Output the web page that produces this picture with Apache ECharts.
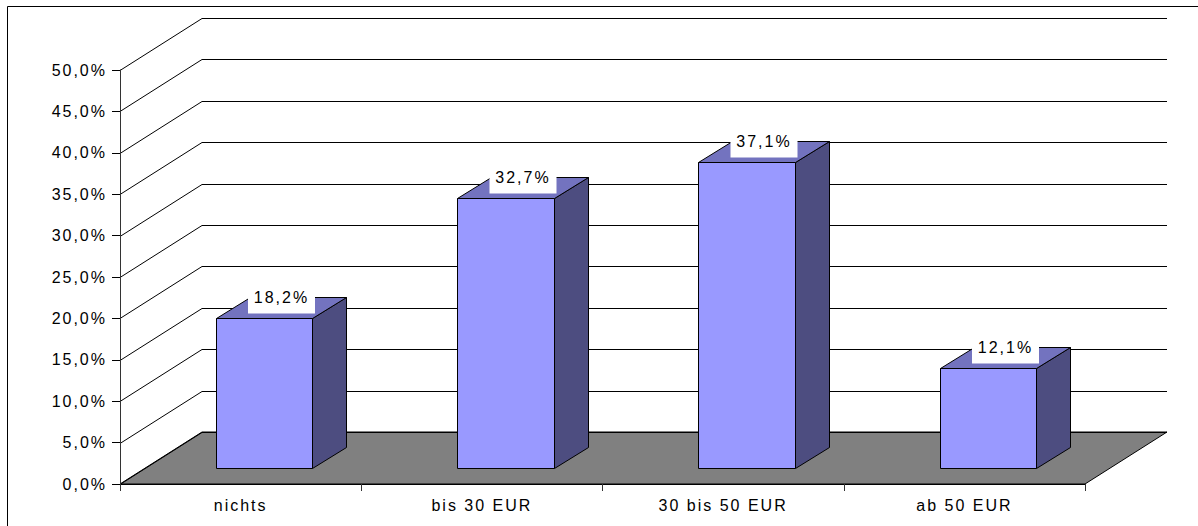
<!DOCTYPE html>
<html>
<head>
<meta charset="utf-8">
<style>
  html, body { margin: 0; padding: 0; background: #fff; }
  #main { width: 1198px; height: 526px; }
  /* the original labels are widely spaced, canvas text can't do this so svg renderer + css */
  #main text { letter-spacing: 2px; }
</style>
<script src="https://cdn.jsdelivr.net/npm/echarts@6/dist/echarts.min.js"></script>
</head>
<body>
<div id="main"></div>
<script>
var categories = ['nichts', 'bis 30 EUR', '30 bis 50 EUR', 'ab 50 EUR'];
var shares = [18.2, 32.7, 37.1, 12.1];
var yTicks = [0, 5, 10, 15, 20, 25, 30, 35, 40, 45, 50];

// fake 3d: how far the back wall sits from the front plane, in px
var DEPTH_X = 82;
var DEPTH_Y = 52;
// bar position inside the floor depth, and width inside the category band
var BAR_FRONT = 0.31;
var BAR_BACK = 0.72;
var BAR_WIDTH = 0.4;
var BAR_SHIFT = -2;
// bars come out a touch shorter than the wall scale in the original
var BAR_SCALE = 0.995;

var FONT = '"Liberation Sans", Arial, sans-serif';

function px(v) {
  return Math.round(v) + 0.5;
}

function percent(v) {
  return v.toFixed(1).replace('.', ',') + '%';
}

function poly(points, fill, z2) {
  return {
    type: 'polygon',
    z2: z2,
    shape: { points: points },
    style: { fill: fill, stroke: '#000', lineWidth: 1 }
  };
}

function renderFloor(params, api) {
  var rect = params.coordSys;
  var y = api.coord([0, 0])[1];
  return {
    type: 'polygon',
    shape: {
      points: [
        [rect.x, y],
        [rect.x + DEPTH_X, y - DEPTH_Y],
        [rect.x + rect.width + DEPTH_X, y - DEPTH_Y],
        [rect.x + rect.width, y]
      ]
    },
    style: { fill: '#808080', stroke: '#000', lineWidth: 1 }
  };
}

function renderGridLine(params, api) {
  var rect = params.coordSys;
  var y = px(api.coord([0, api.value(0)])[1]);
  var backY = y - DEPTH_Y;
  return {
    type: 'polyline',
    shape: {
      points: [
        [rect.x, y],
        [rect.x + DEPTH_X, backY],
        [rect.x + rect.width + DEPTH_X, backY]
      ]
    },
    style: { fill: null, stroke: '#000', lineWidth: 1 }
  };
}

function renderBar(params, api) {
  var i = api.value(0);
  var value = api.value(1);
  var center = api.coord([i, 0]);
  var top = api.coord([i, value]);
  var band = api.size([1, 0])[0];
  var w = band * BAR_WIDTH;

  var offX = DEPTH_X * BAR_FRONT + BAR_SHIFT;
  var offY = DEPTH_Y * BAR_FRONT;
  var sideX = DEPTH_X * (BAR_BACK - BAR_FRONT);
  var sideY = DEPTH_Y * (BAR_BACK - BAR_FRONT);

  var x0 = px(center[0] - w / 2 + offX);
  var x1 = px(center[0] + w / 2 + offX);
  var y0 = px(center[1] - offY);
  var y1 = px(center[1] - offY + (top[1] - center[1]) * BAR_SCALE);
  var dx = Math.round(sideX);
  var dy = Math.round(sideY);

  var labelX = (x0 + x1) / 2 + dx / 2;

  return {
    type: 'group',
    children: [
      poly([[x1, y0], [x1 + dx, y0 - dy], [x1 + dx, y1 - dy], [x1, y1]], '#4D4D80', 1),
      poly([[x0, y1], [x0 + dx, y1 - dy], [x1 + dx, y1 - dy], [x1, y1]], '#7373BF', 1),
      poly([[x0, y0], [x1, y0], [x1, y1], [x0, y1]], '#9999FF', 2),
      {
        type: 'rect',
        z2: 3,
        shape: { x: labelX - 33.5, y: y1 - 38, width: 67, height: 33 },
        style: { fill: '#fff' }
      },
      {
        type: 'text',
        z2: 4,
        x: labelX,
        y: y1 - 21,
        style: {
          text: percent(value),
          fill: '#000',
          font: '16px ' + FONT,
          align: 'center',
          verticalAlign: 'middle'
        }
      }
    ]
  };
}

var chart = echarts.init(document.getElementById('main'), null, { renderer: 'svg' });

chart.setOption({
  animation: false,
  backgroundColor: '#fff',
  textStyle: { fontFamily: FONT },
  grid: { left: 120, right: 113, top: 70, bottom: 42 },
  graphic: [
    {
      // the frame only shows on the left and top, the rest is cut off in the original
      type: 'polyline',
      silent: true,
      shape: { points: [[7.5, 526], [7.5, 6.5], [1198, 6.5]] },
      style: { fill: null, stroke: '#000', lineWidth: 1 }
    }
  ],
  xAxis: {
    type: 'category',
    data: categories,
    z: 5,
    axisLine: { lineStyle: { color: '#000', width: 1 } },
    axisTick: { show: true, alignWithLabel: false, length: 7, lineStyle: { color: '#333' } },
    axisLabel: { color: '#000', fontSize: 16, margin: 13 },
    splitLine: { show: false }
  },
  yAxis: {
    type: 'value',
    min: 0,
    max: 50,
    interval: 5,
    z: 5,
    axisLine: { show: true, lineStyle: { color: '#333', width: 1 } },
    axisTick: { show: true, length: 8, lineStyle: { color: '#000' } },
    axisLabel: {
      color: '#000',
      fontSize: 16,
      margin: 13,
      formatter: function (v) {
        return percent(v);
      }
    },
    splitLine: { show: false }
  },
  series: [
    {
      type: 'custom',
      name: 'floor',
      z: 1,
      silent: true,
      renderItem: renderFloor,
      data: [[0]],
      encode: { y: 0 }
    },
    {
      type: 'custom',
      name: 'grid',
      z: 2,
      silent: true,
      renderItem: renderGridLine,
      data: yTicks.map(function (v) {
        return [v];
      }),
      encode: { y: 0 }
    },
    {
      type: 'custom',
      name: 'shares',
      z: 3,
      silent: true,
      renderItem: renderBar,
      data: shares.map(function (v, i) {
        return [i, v];
      }),
      encode: { x: 0, y: 1 }
    }
  ]
});
</script>
</body>
</html>
